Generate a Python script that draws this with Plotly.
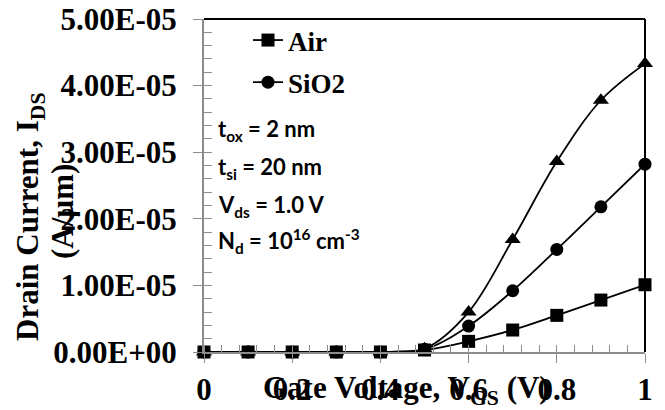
import plotly.graph_objects as go

vgs = [0, 0.1, 0.2, 0.3, 0.4, 0.5, 0.6, 0.7, 0.8, 0.9, 1.0]
ids_air = [0, 0, 0, 0, 0, 3e-7, 1.6e-6, 3.3e-6, 5.5e-6, 7.8e-6, 1.01e-5]
ids_sio2 = [0, 0, 0, 0, 0, 4e-7, 3.9e-6, 9.2e-6, 1.54e-5, 2.18e-5, 2.82e-5]
ids_third = [0, 0, 0, 0, 0, 5e-7, 6.0e-6, 1.69e-5, 2.86e-5, 3.78e-5, 4.33e-5]

x_tickvals = [0, 0.2, 0.4, 0.6, 0.8, 1]
x_ticktext = ["0", "0.2", "0.4", "0.6", "0.8", "1"]
y_tickvals = [0, 1e-5, 2e-5, 3e-5, 4e-5, 5e-5]
y_ticktext = ["0.00E+00", "1.00E-05", "2.00E-05", "3.00E-05", "4.00E-05", "5.00E-05"]

notes = ["t<sub>ox</sub> = 2 nm", "t<sub>si</sub> = 20 nm", "V<sub>ds</sub> = 1.0 V",
         "N<sub>d</sub> = 10<sup>16</sup> cm<sup>-3</sup>"]

serif = "Liberation Serif"
sans = "Lato"

fig = go.Figure()
line = dict(color="black", width=1.8, shape="spline", smoothing=1)
fig.add_trace(go.Scatter(x=vgs, y=ids_air, name="Air", mode="lines+markers", line=line,
                         marker=dict(symbol="square", size=13, color="black"),
                         cliponaxis=False, legendgroup="a"))
fig.add_trace(go.Scatter(x=vgs, y=ids_sio2, name="SiO2", mode="lines+markers", line=line,
                         marker=dict(symbol="circle", size=13, color="black"),
                         cliponaxis=False, legendgroup="b"))
fig.add_trace(go.Scatter(x=vgs, y=ids_third, name="", mode="lines+markers", line=line,
                         marker=dict(symbol="triangle-up", size=14, color="black"),
                         cliponaxis=False, showlegend=False))

axis_gray = "#8c8c8c"
tickfont = dict(family=serif, size=31, color="black", weight="bold")
fig.update_xaxes(range=[0, 1], tickvals=x_tickvals, ticktext=x_ticktext, automargin=False,
                 showgrid=False, zeroline=False, showline=True, linecolor=axis_gray, linewidth=2,
                 ticks="outside", ticklen=9, tickcolor=axis_gray, tickwidth=1,
                 ticklabelstandoff=0, tickfont=tickfont,
                 minor=dict(ticks="inside", dtick=0.04, tick0=0, ticklen=7, tickcolor=axis_gray, tickwidth=1))
fig.update_yaxes(range=[0, 5e-5], tickvals=y_tickvals, ticktext=y_ticktext, automargin=False,
                 showgrid=False, zeroline=False, showline=True, linecolor=axis_gray, linewidth=2,
                 ticks="outside", ticklen=9, tickcolor=axis_gray, tickwidth=1,
                 ticklabelstandoff=10, tickfont=tickfont,
                 minor=dict(ticks="inside", dtick=2e-6, tick0=0, ticklen=8, tickcolor=axis_gray, tickwidth=1))

# top and right frame lines
fig.add_shape(type="line", xref="paper", yref="paper", x0=0, x1=1, y0=1, y1=1,
              line=dict(color="black", width=2))
fig.add_shape(type="line", xref="paper", yref="paper", x0=1, x1=1, y0=0, y1=1,
              line=dict(color="black", width=2))

# axis titles
titlefont = dict(family=serif, size=31, color="black", weight="bold")
fig.add_annotation(text="Drain Current, I<sub>DS</sub>", textangle=-90,
                   xref="paper", yref="paper", x=0, y=(352 - 217) / 333, xshift=30 - 204,
                   xanchor="center", yanchor="middle", showarrow=False, font=titlefont)
fig.add_annotation(text="(A/µm)", textangle=-90,
                   xref="paper", yref="paper", x=0, y=(352 - 212) / 333, xshift=63 - 204,
                   xanchor="center", yanchor="middle", showarrow=False, font=titlefont)
fig.add_annotation(text="Gate Voltage, V<sub>GS</sub> (V)",
                   xref="paper", yref="paper", x=(406 - 204) / 441, y=0, yshift=-(390 - 352),
                   xanchor="center", yanchor="middle", showarrow=False, font=titlefont)

note_y = [130, 168, 206, 241]
for txt, yy in zip(notes, note_y):
    fig.add_annotation(text=txt, xref="paper", yref="paper", x=(216 - 204) / 441,
                       y=(352 - yy) / 333,
                       xanchor="left", yanchor="middle", showarrow=False,
                       font=dict(family=sans, size=22, color="black", weight="bold"))

fig.update_layout(
    width=665, height=410,
    margin=dict(l=204, r=20, t=19, b=58, autoexpand=False),
    plot_bgcolor="white", paper_bgcolor="white",
    showlegend=True,
    legend=dict(x=(248 - 204) / 441, y=(352 - 16) / 333, xanchor="left", yanchor="top",
                bgcolor="rgba(0,0,0,0)", traceorder="grouped", tracegroupgap=4,
                font=dict(family=serif, size=27, color="black", weight="bold")),
)

fig.write_html("out.html")
